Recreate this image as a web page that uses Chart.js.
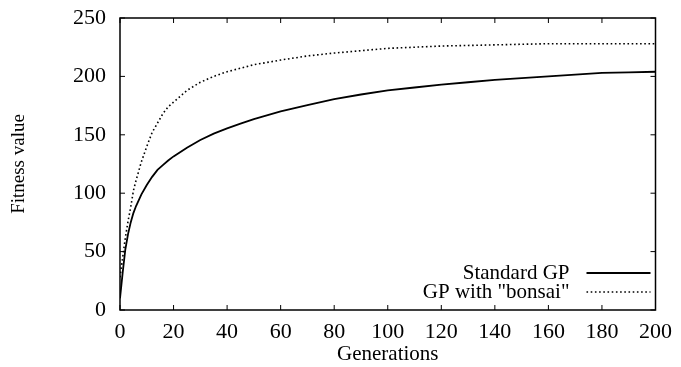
<!DOCTYPE html>
<html lang="en">
<head>
  <meta charset="UTF-8">
  <title>Fitness value vs Generations</title>
  <script src="https://cdn.jsdelivr.net/npm/chart.js"></script>
  <style>
    html, body { margin: 0; padding: 0; background: #fff; }
    #wrap { width: 681px; height: 367px; }
  </style>
</head>
<body>
  <div id="wrap"><canvas id="fitnessChart"></canvas></div>

  <script>
    // generation numbers where values were read
    const generations = [0, 1, 2, 3, 4, 5, 6, 8, 10, 12, 14, 16, 18, 20, 25, 30, 35, 40, 45, 50,
      60, 70, 80, 90, 100, 110, 120, 130, 140, 150, 160, 170, 180, 190, 200];
    const standardGP = [10, 32, 52, 65, 75, 83, 89, 99, 107, 114, 120, 124, 128, 131.5, 139, 145.5, 151, 155.5, 159.5, 163.5,
      170, 175.5, 180.5, 184.5, 188, 190.5, 193, 195, 197, 198.5, 200, 201.5, 203, 203.5, 204];
    const bonsaiGP = [28, 45, 62, 76, 88, 102, 111, 127, 140, 152, 160, 168, 174, 178, 188, 195, 200, 204, 207, 210,
      214, 217.5, 220, 222, 224, 225, 226, 226.5, 227, 227.5, 228, 228, 228, 228, 228];
    const xTicks = [0, 20, 40, 60, 80, 100, 120, 140, 160, 180, 200];
    const yTicks = [0, 50, 100, 150, 200, 250];

    const FONT = '"Liberation Serif", "Times New Roman", serif';

    // gnuplot style frame with inward ticks and legend inside bottom right
    const framePlugin = {
      id: 'frame',
      afterDraw(chart) {
        const ctx = chart.ctx;
        const a = chart.chartArea;
        const xs = chart.scales.x, ys = chart.scales.y;
        ctx.save();
        ctx.strokeStyle = '#000';
        ctx.lineWidth = 1.5;
        ctx.strokeRect(a.left, a.top, a.right - a.left, a.bottom - a.top);
        ctx.lineWidth = 1;
        ctx.beginPath();
        xTicks.forEach(v => {
          const px = xs.getPixelForValue(v);
          ctx.moveTo(px, a.bottom); ctx.lineTo(px, a.bottom - 5);
          ctx.moveTo(px, a.top); ctx.lineTo(px, a.top + 5);
        });
        yTicks.forEach(v => {
          const py = ys.getPixelForValue(v);
          ctx.moveTo(a.left, py); ctx.lineTo(a.left + 5, py);
          ctx.moveTo(a.right, py); ctx.lineTo(a.right - 5, py);
        });
        ctx.stroke();

        // legend
        ctx.font = '21px ' + FONT;
        ctx.fillStyle = '#000';
        ctx.textAlign = 'right';
        ctx.textBaseline = 'middle';
        chart.data.datasets.forEach((ds, i) => {
          const y = a.bottom - 37 + i * 19;
          ctx.fillText(ds.label, a.right - 86, y);
          ctx.beginPath();
          ctx.strokeStyle = ds.borderColor;
          ctx.lineWidth = ds.borderWidth;
          ctx.setLineDash(ds.borderDash || []);
          ctx.moveTo(a.right - 69, y);
          ctx.lineTo(a.right - 5, y);
          ctx.stroke();
        });
        ctx.restore();
      }
    };

    new Chart(document.getElementById('fitnessChart').getContext('2d'), {
      type: 'line',
      data: {
        labels: generations,
        datasets: [{
          label: 'Standard GP',
          data: standardGP,
          borderColor: '#000',
          borderWidth: 1.8,
          pointRadius: 0,
          tension: 0,
          fill: false
        }, {
          label: 'GP with "bonsai"',
          data: bonsaiGP,
          borderColor: '#000',
          borderWidth: 1.6,
          borderDash: [1.6, 2.6],
          pointRadius: 0,
          tension: 0,
          fill: false
        }]
      },
      options: {
        responsive: true,
        maintainAspectRatio: false,
        animation: false,
        layout: { padding: { top: 18, right: 25, left: 0, bottom: 0 } },
        plugins: {
          legend: { display: false },
          tooltip: { enabled: false }
        },
        scales: {
          x: {
            type: 'linear',
            min: 0,
            max: 200,
            afterBuildTicks: (scale) => { scale.ticks = xTicks.map(v => ({ value: v })); },
            afterFit: (scale) => { scale.height = 57; },
            grid: { display: false, drawTicks: false },
            border: { display: false },
            ticks: { color: '#000', padding: 9, maxRotation: 0, font: { family: FONT, size: 22 } },
            title: {
              display: true,
              text: 'Generations',
              color: '#000',
              padding: { top: 0, bottom: 0 },
              font: { family: FONT, size: 21 }
            }
          },
          y: {
            min: 0,
            max: 250,
            afterBuildTicks: (scale) => { scale.ticks = yTicks.map(v => ({ value: v })); },
            afterFit: (scale) => { scale.width = 120; scale.paddingTop = 0; scale.paddingBottom = 0; },
            grid: { display: false, drawTicks: false },
            border: { display: false },
            ticks: { color: '#000', padding: 14, font: { family: FONT, size: 22 } },
            title: {
              display: true,
              text: 'Fitness value',
              color: '#000',
              padding: { top: 8, bottom: 0 },
              font: { family: FONT, size: 19 }
            }
          }
        }
      },
      plugins: [framePlugin]
    });
  </script>
</body>
</html>
